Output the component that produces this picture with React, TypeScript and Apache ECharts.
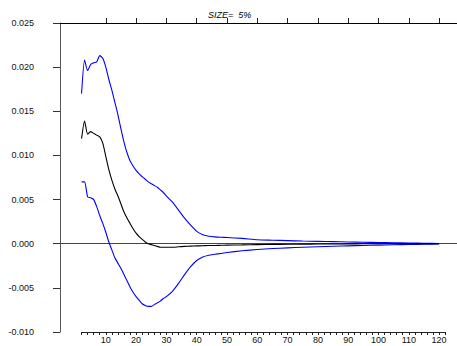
import React, { useEffect, useRef } from "react";
import * as echarts from "echarts";

const titleText = "SIZE=  5%";

const lags = [
  2, 3, 4, 5, 6, 7, 8, 9, 10, 11, 12, 13, 14, 15, 16, 17, 18, 19, 20, 21, 22, 23, 24, 25, 26, 27, 28, 29, 30,
  32, 34, 36, 38, 40, 42, 44, 46, 48, 50,
  55, 60, 65, 70, 75, 80, 85, 90, 95, 100, 105, 110, 115, 120,
];

const center = [
  0.0119, 0.0139, 0.0124, 0.0127, 0.0125, 0.0123, 0.0121, 0.0114, 0.0099, 0.0084, 0.0072, 0.0062, 0.0054, 0.0045,
  0.0036, 0.0029, 0.0023, 0.0017, 0.0012, 0.0008, 0.0005, 0.0002, 0.0, -0.0001, -0.0002, -0.0003, -0.0004, -0.0004,
  -0.0004,
  -0.0004, -0.00035, -0.0003, -0.00027, -0.00025, -0.00023, -0.0002, -0.0002, -0.00018, -0.00016,
  -0.00013, -0.0001, -0.00008, -0.00006, -0.00005, -0.00004, -0.00003, -0.00002, -0.00001, -0.00001, -0.00001,
  -0.00001, 0.0, 0.0,
];

const upper = [
  0.017, 0.0208, 0.0196, 0.0203, 0.0205, 0.0206, 0.0213, 0.021, 0.02, 0.0186, 0.0174, 0.016, 0.0146, 0.013, 0.0115,
  0.0103, 0.0094, 0.0088, 0.0083, 0.0079, 0.0076, 0.0073, 0.007, 0.0068, 0.0066, 0.0064, 0.0061, 0.0058, 0.0054,
  0.0047, 0.0038, 0.0029, 0.0021, 0.0014, 0.00102, 0.00085, 0.00077, 0.00073, 0.0007,
  0.0006, 0.00045, 0.0004, 0.00035, 0.0003, 0.00027, 0.00024, 0.0002, 0.00017, 0.00014, 0.0001, 0.00008, 0.00005,
  0.00003,
];

const lower = [
  0.007, 0.007, 0.0053, 0.0052, 0.005, 0.0042, 0.0032, 0.0023, 0.0013, 0.0002, -0.0007, -0.0016, -0.0022, -0.0028,
  -0.0035, -0.0042, -0.0049, -0.0055, -0.006, -0.0064, -0.0068, -0.007, -0.0071, -0.0071, -0.0069, -0.0067,
  -0.0065, -0.0062, -0.006,
  -0.0054, -0.0045, -0.0035, -0.0026, -0.0019, -0.0015, -0.0013, -0.0012, -0.0011, -0.001,
  -0.0008, -0.00065, -0.00055, -0.00047, -0.0004, -0.00034, -0.00029, -0.00024, -0.0002, -0.00016, -0.00012,
  -0.00009, -0.00006, -0.00004,
];

const yTicks = { min: -0.01, max: 0.025, interval: 0.005 };
const xTickRange = { min: 2, max: 122, minorStep: 2 };
const majorTicks = [10, 20, 30, 40, 50, 60, 70, 80, 90, 100, 110, 120];

// layout constants (pixels)
const W = 457;
const H = 346;
const AXIS_X = 60;
const TOP = 23;
const BOTTOM = 14;
const PX0 = 75.5; // pixel of lag 0
const PXU = 3.03; // pixels per lag unit

export default function App() {
  const ref = useRef<HTMLDivElement>(null);

  useEffect(() => {
    if (!ref.current) return;
    const chart = echarts.init(ref.current, undefined, { renderer: "svg" });
    const pair = (vals: number[]) => lags.map((l, i) => [l, vals[i]]);
    const g1Left = PX0 + PXU * xTickRange.min;
    const g1Right = W - (PX0 + PXU * xTickRange.max);
    const font = "Liberation Sans, Arial, sans-serif";

    chart.setOption({
      animation: false,
      backgroundColor: "#fff",
      title: {
        text: titleText,
        left: 208,
        top: 10,
        padding: 0,
        textStyle: { fontSize: 9, fontStyle: "italic", fontWeight: "normal", color: "#000", fontFamily: font },
      },
      grid: [
        { left: AXIS_X, right: 0, top: TOP, bottom: BOTTOM },
        { left: g1Left, right: g1Right, top: TOP, bottom: BOTTOM },
      ],
      xAxis: [
        {
          gridIndex: 0,
          type: "value",
          min: 0,
          max: 1,
          axisLine: { show: true, onZero: true, lineStyle: { color: "#444", width: 1 } },
          axisTick: { show: false },
          axisLabel: { show: false },
          splitLine: { show: false },
        },
        {
          gridIndex: 0,
          type: "value",
          position: "top",
          min: 0,
          max: 1,
          axisLine: { show: true, onZero: false, lineStyle: { color: "#000", width: 1.2 } },
          axisTick: { show: false },
          axisLabel: { show: false },
          splitLine: { show: false },
        },
        {
          gridIndex: 1,
          type: "value",
          min: xTickRange.min,
          max: xTickRange.max,
          interval: xTickRange.minorStep,
          axisLine: { show: true, onZero: false, lineStyle: { color: "#222", width: 1 } },
          axisTick: { show: true, length: 3, lineStyle: { color: "#222" } },
          axisLabel: {
            show: true,
            margin: 3,
            fontSize: 9,
            color: "#111",
            fontFamily: font,
            formatter: (v: number) => (majorTicks.includes(v) ? String(v) : ""),
          },
          splitLine: { show: false },
        },
        {
          gridIndex: 1,
          type: "value",
          min: xTickRange.min,
          max: xTickRange.max,
          axisLine: { show: false, onZero: false },
          axisTick: { show: true, length: 5, customValues: majorTicks, lineStyle: { color: "#222" } },
          axisLabel: { show: false },
          splitLine: { show: false },
        },
      ],
      yAxis: [
        {
          gridIndex: 0,
          type: "value",
          min: yTicks.min,
          max: yTicks.max,
          interval: yTicks.interval,
          axisLine: { show: true, lineStyle: { color: "#555", width: 1 } },
          axisTick: { show: true, length: 7, lineStyle: { color: "#333" } },
          axisLabel: {
            margin: 26,
            fontSize: 9,
            color: "#111",
            fontFamily: font,
            formatter: (v: number) => v.toFixed(3),
          },
          splitLine: { show: false },
        },
        {
          gridIndex: 1,
          type: "value",
          min: yTicks.min,
          max: yTicks.max,
          show: false,
        },
      ],
      series: [
        {
          type: "line",
          xAxisIndex: 2,
          yAxisIndex: 1,
          data: pair(upper),
          showSymbol: false,
          smooth: 0.2,
          lineStyle: { color: "#0000ff", width: 1.1 },
        },
        {
          type: "line",
          xAxisIndex: 2,
          yAxisIndex: 1,
          data: pair(lower),
          showSymbol: false,
          smooth: 0.2,
          lineStyle: { color: "#0000ff", width: 1.1 },
        },
        {
          type: "line",
          xAxisIndex: 2,
          yAxisIndex: 1,
          data: pair(center),
          showSymbol: false,
          smooth: 0.2,
          lineStyle: { color: "#000", width: 1.1 },
        },
      ],
    });
    return () => chart.dispose();
  }, []);

  return <div ref={ref} style={{ position: "absolute", left: 0, top: 0, width: W, height: H }} />;
}
